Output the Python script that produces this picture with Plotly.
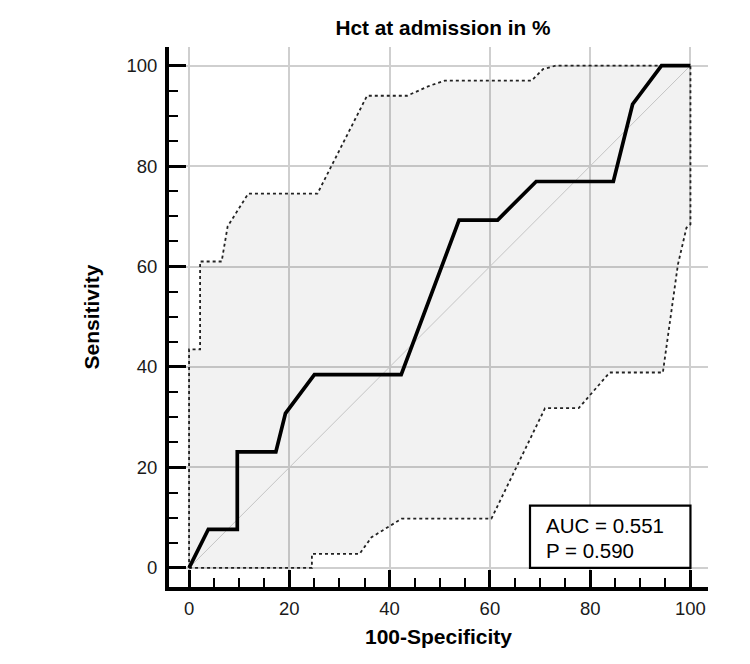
import plotly.graph_objects as go

# ROC curve (100-Specificity vs Sensitivity)
roc_fpr = [0, 3.85, 9.62, 9.62, 17.31, 19.23, 25.0, 42.31, 53.85, 61.54, 69.23, 84.62, 88.46, 94.23, 100]
roc_sens = [0, 7.69, 7.69, 23.08, 23.08, 30.77, 38.46, 38.46, 69.23, 69.23, 76.92, 76.92, 92.31, 100, 100]

# upper confidence bound
upper_x = [0, 0, 2.2, 2.2, 6.5, 7.7, 11.8, 25.6, 35.5, 43.5, 48.0, 51.0, 68.3, 70.6, 73.2, 100]
upper_y = [0, 43.5, 43.5, 61.0, 61.0, 68.0, 74.5, 74.5, 94.0, 94.0, 96.0, 97.0, 97.0, 99.3, 100, 100]

# lower confidence bound
lower_x = [0, 24.5, 24.5, 34.0, 36.4, 42.4, 60.3, 71.0, 77.7, 83.9, 94.5, 97.5, 99.2, 100, 100]
lower_y = [0, 0, 2.8, 2.8, 6.1, 9.8, 9.8, 31.8, 31.8, 38.9, 38.9, 60.4, 67.7, 68.4, 100]

diag = [0, 100]
tick_vals = [0, 20, 40, 60, 80, 100]
auc_text = "AUC = 0.551"
p_text = "P = 0.590"

FONT = "Liberation Sans, Arial, sans-serif"

fig = go.Figure()

# confidence band fill
fig.add_trace(go.Scatter(
    x=upper_x + lower_x[::-1], y=upper_y + lower_y[::-1],
    fill="toself", fillcolor="rgba(0,0,0,0.05)",
    line=dict(width=0), mode="lines", hoverinfo="skip", showlegend=False))

# diagonal reference
fig.add_trace(go.Scatter(x=diag, y=diag, mode="lines",
                         line=dict(color="#c4c4c4", width=1), showlegend=False))

# CI bounds
fig.add_trace(go.Scatter(x=upper_x, y=upper_y, mode="lines",
                         line=dict(color="#222222", width=1.8, dash="dot"), showlegend=False))
fig.add_trace(go.Scatter(x=lower_x, y=lower_y, mode="lines",
                         line=dict(color="#222222", width=1.8, dash="dot"), showlegend=False))

# ROC curve
fig.add_trace(go.Scatter(x=roc_fpr, y=roc_sens, mode="lines",
                         line=dict(color="black", width=3.7), showlegend=False))

axis_common = dict(
    tickvals=tick_vals, ticks="inside", ticklen=17, tickwidth=3, tickcolor="black",
    showline=True, linecolor="black", linewidth=3.8,
    showgrid=True, gridcolor="#cfcfcf", gridwidth=1.5,
    zeroline=False, tickfont=dict(family=FONT, size=18.5, color="#1a1a1a"),
    minor=dict(dtick=5, tick0=0, ticks="inside", ticklen=9, tickwidth=2,
               tickcolor="black", showgrid=False),
    fixedrange=True,
)

fig.update_layout(
    width=750, height=664,
    margin=dict(l=161, r=50, t=39, b=85),
    paper_bgcolor="white", plot_bgcolor="white",
    title=dict(text="Hct at admission in %", x=435/750, xanchor="center",
               y=1-19.5/664, yanchor="middle", xref="container", yref="container",
               font=dict(family=FONT, size=20.8, color="black", weight="bold")),
    xaxis=dict(range=[-4, 103.5], ticklabelstandoff=2,
               title=dict(text="100-Specificity", standoff=12,
                          font=dict(family=FONT, size=21, color="black", weight="bold")),
               **axis_common),
    yaxis=dict(range=[-3.8, 103.7], ticklabelstandoff=4,
               title=dict(text="Sensitivity", standoff=22,
                          font=dict(family=FONT, size=21, color="black", weight="bold")),
               **axis_common),
    shapes=[dict(type="rect", xref="x", yref="y", x0=68.0, x1=100, y0=0, y1=12.4,
                 line=dict(color="black", width=2.2), fillcolor="white", layer="above")],
    annotations=[
        dict(text=auc_text, x=70.8, y=8.4, xref="x", yref="y", xanchor="left", yanchor="middle",
             showarrow=False, font=dict(family=FONT, size=20.5, color="black")),
        dict(text=p_text, x=70.8, y=3.5, xref="x", yref="y", xanchor="left", yanchor="middle",
             showarrow=False, font=dict(family=FONT, size=20.5, color="black")),
    ],
)

fig.write_html("out.html")
